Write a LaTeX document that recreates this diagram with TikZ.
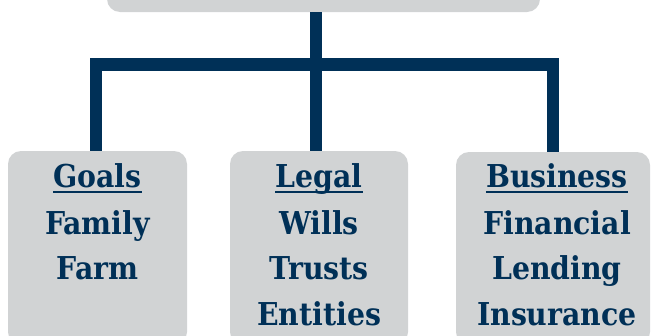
\documentclass[tikz,border=0pt]{standalone}
\usepackage{fontspec}
\setmainfont{DejaVu Serif Condensed}
\definecolor{navy}{HTML}{003057}
\definecolor{boxgray}{HTML}{D1D3D4}
\tikzset{
  x=1pt, y=-1pt,
  graybox/.style={fill=boxgray, draw=none, rounded corners=13pt},
  conn/.style={draw=navy, line width=11.5pt},
  lbl/.style={anchor=base, inner sep=0pt, text=navy, font=\bfseries\fontsize{31.5}{36}\selectfont},
  uline/.style={draw=navy, line width=2.4pt}
}
\begin{document}
\begin{tikzpicture}
\useasboundingbox (0,0) rectangle (653,335);
% boxes
\path[graybox] (107,-40) rectangle (540,12);
\path[graybox] (8,151) rectangle (187,345);
\path[graybox] (230,151) rectangle (408,345);
\path[graybox] (456,152) rectangle (650,345);
\coordinate (top) at (316,12);
\coordinate (jc) at (316,64.7);
\coordinate (jl) at (96,64.7);
\coordinate (jr) at (553,64.7);
\coordinate (bl) at (96,151);
\coordinate (bc) at (316,151);
\coordinate (br) at (553,152);
% connectors
\draw[conn] (top) -- (bc);
\draw[conn, line width=12.5pt] ([xshift=-6pt]jl) -- ([xshift=6pt]jr);
\draw[conn] (jl) -- (bl);
\draw[conn] (jr) -- (br);
% left
\node[lbl] (g1) at (97.5,187.5) {Goals};
\node[lbl] (g2) at (97.5,234) {Family};
\node[lbl] (g3) at (97.5,279.5) {Farm};
% middle
\node[lbl] (l1) at (319,187.5) {Legal};
\node[lbl] (l2) at (319,234) {Wills};
\node[lbl] (l3) at (319,279.5) {Trusts};
\node[lbl] (l4) at (319,325) {Entities};
% right
\node[lbl] (b1) at (557,187.5) {Business};
\node[lbl] (b2) at (557,234) {Financial};
\node[lbl] (b3) at (557,279.5) {Lending};
\node[lbl] (b4) at (557,325) {Insurance};
% underlines
\draw[uline] ([yshift=-4.5pt]g1.base west) -- ([yshift=-4.5pt]g1.base east);
\draw[uline] ([yshift=-4.5pt]l1.base west) -- ([yshift=-4.5pt]l1.base east);
\draw[uline] ([yshift=-4.5pt]b1.base west) -- ([yshift=-4.5pt]b1.base east);
\end{tikzpicture}
\end{document}
